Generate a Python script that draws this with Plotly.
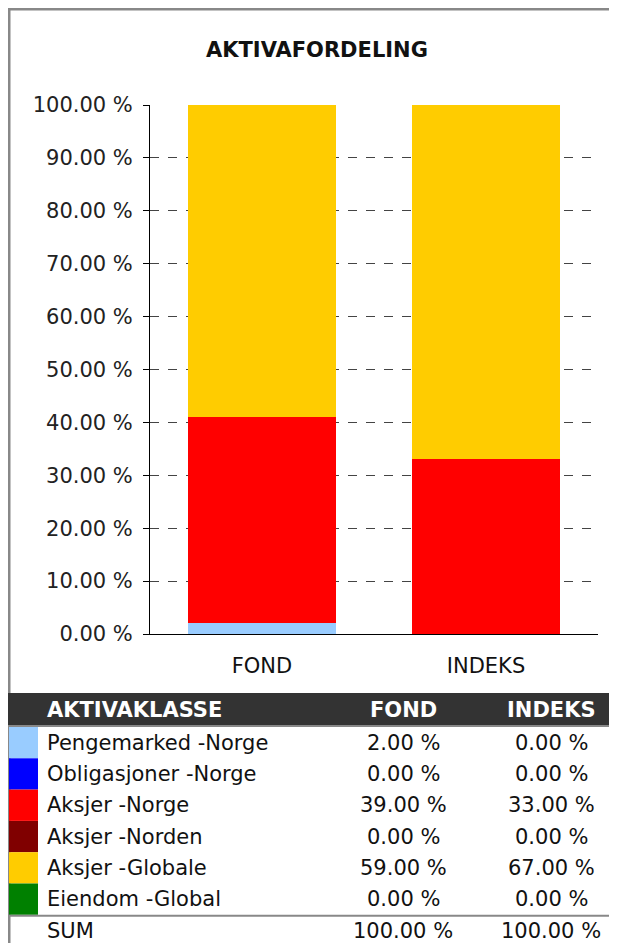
import plotly.graph_objects as go

categories = ["FOND", "INDEKS"]
asset_classes = ["Pengemarked -Norge", "Obligasjoner -Norge", "Aksjer -Norge",
                 "Aksjer -Norden", "Aksjer -Globale", "Eiendom -Global"]
fond_values = [2.0, 0.0, 39.0, 0.0, 59.0, 0.0]
indeks_values = [0.0, 0.0, 33.0, 0.0, 67.0, 0.0]
class_colors = ["#99CCFF", "#0000FF", "#FF0000", "#800000", "#FFCC00", "#008000"]
y_ticks = [0, 10, 20, 30, 40, 50, 60, 70, 80, 90, 100]
title_text = "AKTIVAFORDELING"
table_header = ["AKTIVAKLASSE", "FOND", "INDEKS"]
sum_label = "SUM"

# page body has an 8px margin, so the figure starts at (8, 8) on screen
OFF = 8
W, H = 609, 935
FONT = "DejaVu Sans"


def px(x):
    return (x - OFF) / W


def py(y):
    return 1 - (y - OFF) / H


fig = go.Figure()
for name, f, i, c in zip(asset_classes, fond_values, indeks_values, class_colors):
    fig.add_trace(go.Bar(x=categories, y=[f, i], name=name, marker=dict(color=c, line=dict(width=0)),
                         showlegend=False))

fig.update_layout(
    width=W, height=H,
    margin=dict(l=0, r=0, t=0, b=0, pad=0),
    paper_bgcolor="white", plot_bgcolor="white",
    barmode="stack", bargap=0.335,
    font=dict(family=FONT, color="#111111"),
    xaxis=dict(domain=[px(150), px(598)], automargin=False, showgrid=False,
               showline=True, linecolor="#000000", linewidth=1, ticks="",
               tickfont=dict(size=21, color="#111111"), ticklabelstandoff=13),
    yaxis=dict(domain=[py(634), py(105)], automargin=False, range=[0, 100],
               tickvals=y_ticks, ticktext=[f"{v:.2f} %" for v in y_ticks],
               showline=True, linecolor="#000000", linewidth=1,
               ticks="outside", ticklen=6, tickcolor="#000000",
               showgrid=True, gridcolor="#444444", gridwidth=1, griddash="dash",
               zeroline=False, tickfont=dict(size=21, color="#222222"),
               ticklabelstandoff=6),
)

shapes = []
annotations = []

# outer border
shapes.append(dict(type="line", xref="paper", yref="paper", x0=px(9), x1=px(9), y0=py(8), y1=py(950),
                   line=dict(color="#888888", width=3)))
shapes.append(dict(type="line", xref="paper", yref="paper", x0=px(8), x1=px(620), y0=py(9), y1=py(9),
                   line=dict(color="#888888", width=3)))

# title
annotations.append(dict(text=f"<b>{title_text}</b>", xref="paper", yref="paper", x=px(317), y=py(50),
                        xanchor="center", yanchor="middle", showarrow=False,
                        font=dict(size=21, color="#111111", family=FONT)))

# table header
shapes.append(dict(type="rect", xref="paper", yref="paper", x0=px(8), x1=px(620), y0=py(693), y1=py(725),
                   fillcolor="#333333", line=dict(width=0)))
shapes.append(dict(type="line", xref="paper", yref="paper", x0=px(8), x1=px(620), y0=py(726), y1=py(726),
                   line=dict(color="#888888", width=2)))
col_x = [45, 403, 551]
col_anchor = ["left", "center", "center"]
for txt, cx, anc in zip(table_header, col_x, col_anchor):
    annotations.append(dict(text=f"<b>{txt}</b>", xref="paper", yref="paper", x=px(cx), y=py(710),
                            xanchor=anc, yanchor="middle", showarrow=False,
                            font=dict(size=21, color="white", family=FONT)))

row_top = 727
row_h = 31.3
for k, (name, f, i, c) in enumerate(zip(asset_classes, fond_values, indeks_values, class_colors)):
    y0 = row_top + k * row_h
    shapes.append(dict(type="rect", xref="paper", yref="paper", x0=px(9), x1=px(38), y0=py(y0), y1=py(y0 + row_h),
                       fillcolor=c, line=dict(width=0)))
    yc = y0 + row_h / 2
    for txt, cx, anc in zip([name, f"{f:.2f} %", f"{i:.2f} %"], col_x, col_anchor):
        annotations.append(dict(text=txt, xref="paper", yref="paper", x=px(cx), y=py(yc),
                                xanchor=anc, yanchor="middle", showarrow=False,
                                font=dict(size=21, color="#111111", family=FONT)))

sep_y = row_top + len(asset_classes) * row_h + 1
shapes.append(dict(type="line", xref="paper", yref="paper", x0=px(8), x1=px(620), y0=py(sep_y), y1=py(sep_y),
                   line=dict(color="#888888", width=2)))
sum_f = sum(fond_values)
sum_i = sum(indeks_values)
for txt, cx, anc in zip([sum_label, f"{sum_f:.2f} %", f"{sum_i:.2f} %"], col_x, col_anchor):
    annotations.append(dict(text=txt, xref="paper", yref="paper", x=px(cx), y=py(931),
                            xanchor=anc, yanchor="middle", showarrow=False,
                            font=dict(size=21, color="#111111", family=FONT)))

fig.update_layout(shapes=shapes, annotations=annotations)
fig.write_html("out.html")
